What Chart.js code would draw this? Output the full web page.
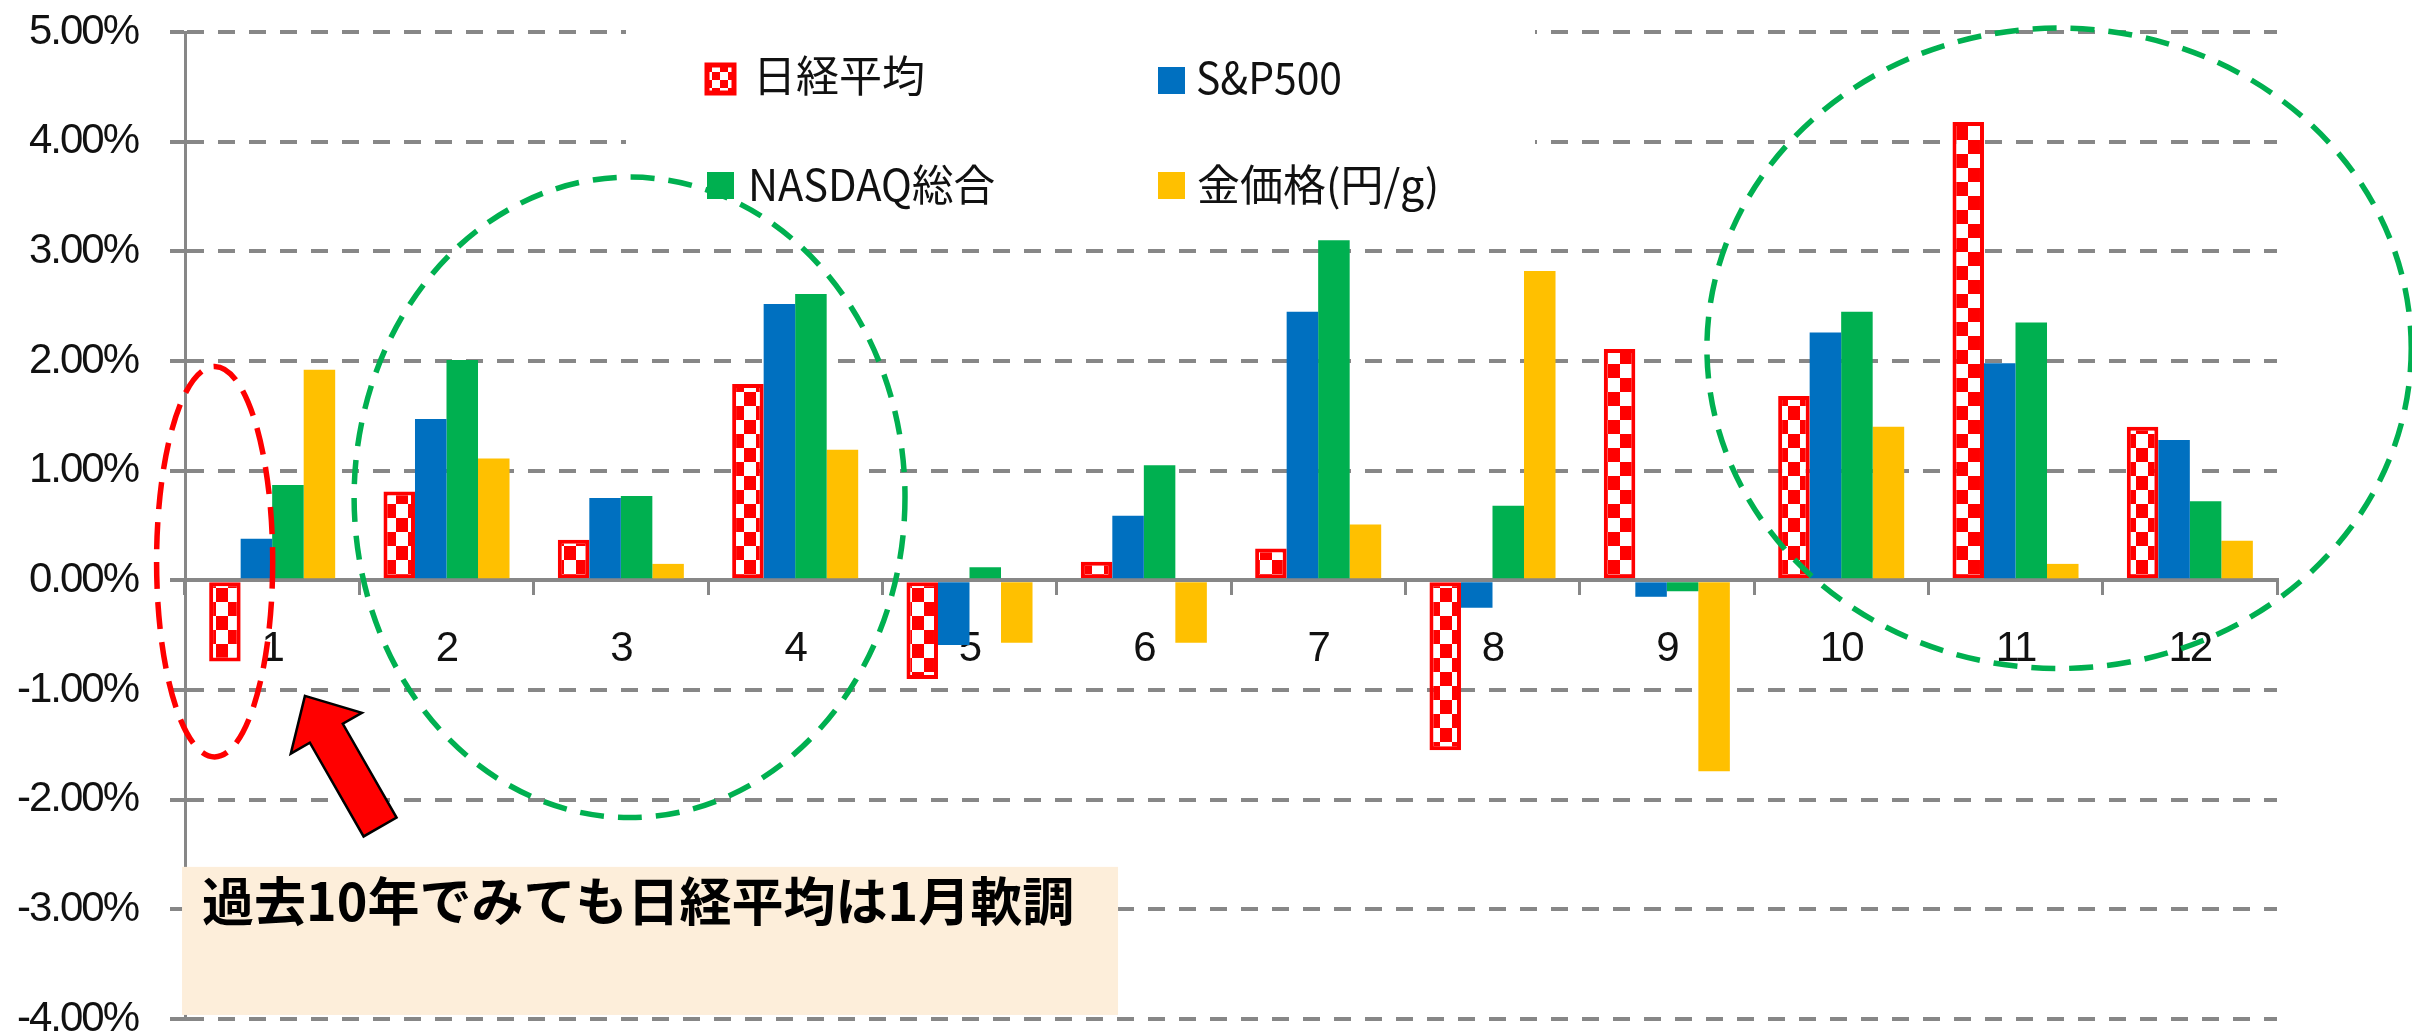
<!DOCTYPE html>
<html>
<head>
<meta charset="utf-8">
<script src="https://cdn.jsdelivr.net/npm/chart.js@4/dist/chart.umd.min.js"></script>
<style>
  html, body { margin: 0; padding: 0; background: #fff; overflow: hidden; }
  #wrap { width: 2412px; height: 1034px; position: relative; }
  canvas { display: block; }
</style>
</head>
<body>
<div id="wrap"><canvas id="c" width="2412" height="1034"></canvas></div>
<script>
// ---- data ----
const months = ['1','2','3','4','5','6','7','8','9','10','11','12'];
const seriesNames = ['日経平均', 'S&P500', 'NASDAQ総合', '金価格(円/g)'];
const nikkei = [-0.74, 0.81, 0.37, 1.79, -0.90, 0.17, 0.29, -1.55, 2.11, 1.68, 4.18, 1.40];
const sp500  = [0.38, 1.47, 0.75, 2.52, -0.59, 0.59, 2.45, -0.25, -0.15, 2.26, 1.98, 1.28];
const nasdaq = [0.87, 2.01, 0.77, 2.61, 0.12, 1.05, 3.10, 0.68, -0.10, 2.45, 2.35, 0.72];
const gold   = [1.92, 1.11, 0.15, 1.19, -0.57, -0.57, 0.51, 2.82, -1.74, 1.40, 0.15, 0.36];
const yMin = -4, yMax = 5, yStep = 1;
const noteText = '過去10年でみても日経平均は1月軟調';

// ---- styles ----
const RED = '#FF0000', BLUE = '#0070C0', GREEN = '#00B050', GOLD = '#FFC000';
const GRID = '#878787';
const LATIN = "'Liberation Sans', sans-serif";
const CJK = "'Noto Sans CJK JP', sans-serif";

function checker(cw, ch) {
  const c = document.createElement('canvas');
  c.width = cw * 2; c.height = ch * 2;
  const g = c.getContext('2d');
  g.fillStyle = '#fff'; g.fillRect(0, 0, c.width, c.height);
  g.fillStyle = RED;
  g.fillRect(0, 0, cw, ch); g.fillRect(cw, ch, cw, ch);
  return g.createPattern(c, 'repeat');
}
const barPattern = checker(12, 14);
const legendPattern = checker(8, 8);

// annotations in data space: x in category-index units, y in value units
const ellipses = [
  { cx: -0.33, cy: 0.17, rx: 0.333, ry: 1.78, color: RED },
  { cx: 2.05, cy: 0.757, rx: 1.58, ry: 2.92, color: GREEN },
  { cx: 10.25, cy: 2.116, rx: 2.02, ry: 2.92, color: GREEN }
];
const arrow = { tip: [0.188, -1.054], tail: [0.619, -2.249] };
const noteBox = { x0: -0.517, x1: 4.852, y0: -2.613, y1: -3.963, textX: -0.402, textY: -2.93 };

const legendItems = [
  { i: 0, mx: 707, my: 79, tx: 753, ty: 76, w: 172 },
  { i: 1, mx: 1158, my: 80, tx: 1196, ty: 78, w: 146 },
  { i: 2, mx: 707, my: 185, tx: 748, ty: 185, w: 247 },
  { i: 3, mx: 1158, my: 185, tx: 1197, ty: 185, w: 247 }
];

// narrower axis lettering (the original uses a condensed face)
const narrowTicks = {
  id: 'narrowTicks',
  beforeDraw(chart) { chart.ctx.letterSpacing = '-2px'; },
  beforeDatasetsDraw(chart) { chart.ctx.letterSpacing = '0px'; }
};

const annot = {
  id: 'annot',
  afterDraw(chart) {
    const ctx = chart.ctx;
    ctx.letterSpacing = '0px';
    const xs = chart.scales.x, ys = chart.scales.y;
    const x0 = xs.getPixelForValue(0), step = xs.getPixelForValue(1) - x0;
    const px = v => x0 + v * step;
    const py = v => ys.getPixelForValue(v);
    const unit = ys.getPixelForValue(0) - ys.getPixelForValue(1);

    // legend background + items
    ctx.save();
    ctx.fillStyle = '#fff';
    ctx.fillRect(626, 0, 909, 222);
    legendItems.forEach(it => {
      const ds = chart.data.datasets[it.i];
      if (it.i === 0) {
        ctx.fillStyle = legendPattern;
        ctx.fillRect(it.mx, it.my - 14, 27, 28);
        ctx.strokeStyle = RED; ctx.lineWidth = 5;
        ctx.strokeRect(it.mx, it.my - 14, 27, 28);
      } else {
        ctx.fillStyle = ds.backgroundColor;
        ctx.fillRect(it.mx, it.my - 13, 27, 27);
      }
      ctx.fillStyle = '#111';
      ctx.font = '43px ' + CJK;
      ctx.textBaseline = 'middle';
      ctx.textAlign = 'left';
      ctx.fillText(ds.label, it.tx, it.ty, it.w);
    });
    ctx.restore();

    // dashed ellipses
    ellipses.forEach(e => {
      ctx.save();
      ctx.strokeStyle = e.color;
      ctx.lineWidth = 5.5;
      ctx.setLineDash(e.color === RED ? [27, 13] : [24, 14]);
      ctx.beginPath();
      ctx.ellipse(px(e.cx), py(e.cy), Math.abs(e.rx * step), Math.abs(e.ry * unit), 0, 0, Math.PI * 2);
      ctx.stroke();
      ctx.restore();
    });

    // block arrow
    const T = [px(arrow.tip[0]), py(arrow.tip[1])];
    const B = [px(arrow.tail[0]), py(arrow.tail[1])];
    const L = Math.hypot(B[0] - T[0], B[1] - T[1]);
    const u = [(B[0] - T[0]) / L, (B[1] - T[1]) / L];
    const n = [u[1], -u[0]];
    const hl = 43, hw = 41, sw = 19;
    const P = (a, b) => [T[0] + u[0] * a + n[0] * b, T[1] + u[1] * a + n[1] * b];
    const pts = [P(0, 0), P(hl, hw), P(hl, sw), P(L, sw), P(L, -sw), P(hl, -sw), P(hl, -hw)];
    ctx.save();
    ctx.beginPath();
    pts.forEach((p, k) => k ? ctx.lineTo(p[0], p[1]) : ctx.moveTo(p[0], p[1]));
    ctx.closePath();
    ctx.fillStyle = RED; ctx.fill();
    ctx.strokeStyle = '#000'; ctx.lineWidth = 2.5; ctx.lineJoin = 'miter'; ctx.stroke();
    ctx.restore();

    // note box
    ctx.save();
    const bx0 = px(noteBox.x0), bx1 = px(noteBox.x1), by0 = py(noteBox.y0), by1 = py(noteBox.y1);
    ctx.fillStyle = '#FDEEDA';
    ctx.fillRect(bx0, by0, bx1 - bx0, by1 - by0);
    ctx.fillStyle = '#000';
    ctx.font = 'bold 52px ' + CJK;
    ctx.textBaseline = 'middle';
    ctx.textAlign = 'left';
    ctx.fillText(noteText, px(noteBox.textX), py(noteBox.textY), 878);
    ctx.restore();
  }
};

const ctx = document.getElementById('c').getContext('2d');
new Chart(ctx, {
  type: 'bar',
  data: {
    labels: months,
    datasets: [
      { label: seriesNames[0], data: nikkei, backgroundColor: barPattern, borderColor: RED, borderWidth: 4, borderSkipped: false },
      { label: seriesNames[1], data: sp500, backgroundColor: BLUE },
      { label: seriesNames[2], data: nasdaq, backgroundColor: GREEN },
      { label: seriesNames[3], data: gold, backgroundColor: GOLD }
    ]
  },
  options: {
    responsive: false,
    animation: false,
    devicePixelRatio: 1,
    datasets: { bar: { categoryPercentage: 0.723, barPercentage: 1 } },
    layout: { padding: { left: 0, right: 135, top: 32, bottom: 15 } },
    plugins: { legend: { display: false }, tooltip: { enabled: false } },
    scales: {
      x: {
        position: { y: 0 },
        grid: { display: true, drawOnChartArea: false, drawTicks: true, tickLength: 13, color: GRID, lineWidth: 3, offset: true },
        border: { display: true, color: GRID, width: 4 },
        ticks: { font: { family: LATIN, size: 42 }, color: '#111', padding: 31, maxRotation: 0, autoSkip: false },
        afterFit(s) { s.height = 0; s.paddingLeft = 0; s.paddingRight = 0; }
      },
      y: {
        min: yMin, max: yMax,
        ticks: { stepSize: yStep, font: { family: LATIN, size: 42 }, color: '#111', padding: 32,
                 callback: v => v.toFixed(2) + '%' },
        grid: { color: GRID, lineWidth: 4, drawTicks: true, tickLength: 15, tickColor: GRID, tickWidth: 4 },
        border: { display: true, color: GRID, width: 3, dash: [17, 14] },
        afterFit(s) { s.width = 185; s.paddingTop = 0; s.paddingBottom = 0; }
      }
    }
  },
  plugins: [narrowTicks, annot]
});
</script>
</body>
</html>
